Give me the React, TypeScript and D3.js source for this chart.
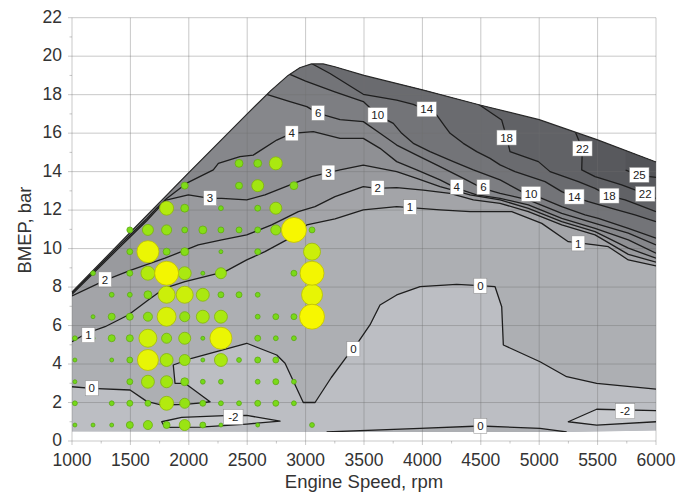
import React from 'react'
import * as d3 from 'd3'

type Pt = [number, number]

// full-load curve and lower edge of the mapped area (rpm, bar)
const envelopeTop: Pt[] = [
  [1000, 7.75], [1500, 10.85], [2000, 13.95], [2500, 17.0], [2700, 18.2],
  [2850, 19.0], [2950, 19.4], [3050, 19.6], [3150, 19.6], [3250, 19.45],
  [3500, 19.0], [4000, 18.25], [4500, 17.45], [5000, 16.7], [5500, 15.65], [6000, 14.5],
]
const envelopeBottom: Pt[] = [[1000, 0.5], [3200, 0.47], [5250, 0.47], [6000, 0.55]]

// contour lines (rpm, bar)
const contour1: Pt[] = [
  [1000, 5.16], [1126, 5.6], [1283, 5.94], [1482, 6.55], [1653, 7.33], [1796, 7.95],
  [1967, 8.28], [2139, 8.54], [2310, 8.8], [2496, 9.41], [2652, 9.84], [2838, 10.45],
  [3010, 11.23], [3252, 11.54], [3494, 12.01], [3780, 12.18], [4151, 12.01], [4408, 11.92],
  [4765, 11.92], [5022, 11.31], [5249, 10.36], [5478, 10.19], [5592, 10.1], [5763, 9.41], [6000, 9.1],
]
const contour2: Pt[] = [
  [1000, 7.54], [1291, 8.37], [1511, 8.89], [1796, 9.5], [2081, 10.19], [2282, 10.45],
  [2496, 10.71], [2710, 11.23], [2938, 11.92], [3081, 12.18], [3252, 12.7], [3494, 13.22],
  [3609, 13.13], [3780, 13.17], [4008, 13.04], [4236, 12.87], [4436, 12.53], [4665, 12.35],
  [4907, 11.92], [5193, 11.23], [5478, 10.71], [5763, 9.7], [6000, 9.3],
]
const contour3: Pt[] = [
  [1000, 7.62], [1396, 10.0], [1640, 11.45], [1725, 12.0], [1796, 12.5], [1996, 12.79],
  [2182, 12.61], [2282, 12.61], [2496, 12.53], [2652, 12.79], [2938, 13.48], [3052, 13.74],
  [3192, 13.95], [3295, 14.09], [3494, 14.34], [3780, 14.0], [3951, 13.65], [4151, 13.22],
  [4408, 12.79], [4665, 12.53], [4907, 12.09], [5193, 11.4], [5478, 10.88], [5763, 10.02], [6000, 9.5],
]
const contour4: Pt[] = [
  [1000, 7.7], [1396, 10.1], [1640, 11.55], [1725, 12.1], [1811, 12.6], [1982, 13.4],
  [2210, 14.09], [2253, 14.43], [2438, 14.78], [2552, 14.86], [2753, 15.64], [2881, 15.99],
  [3066, 16.08], [3295, 15.73], [3494, 15.73], [3637, 15.21], [3780, 14.52], [3951, 14.09],
  [4151, 13.57], [4294, 13.13], [4465, 12.79], [4665, 12.61], [4907, 12.27], [5193, 11.57],
  [5478, 11.05], [5763, 10.45], [6000, 9.76],
]
const contour6: Pt[] = [
  [2667, 18.02], [2866, 17.64], [3010, 17.38], [3109, 17.03], [3295, 16.7], [3494, 16.6],
  [3637, 15.99], [3780, 15.38], [3951, 14.86], [4151, 14.26], [4351, 13.65], [4516, 13.13],
  [4665, 12.87], [4907, 12.53], [5193, 11.83], [5478, 11.31], [5763, 10.8], [6000, 10.19],
]
const contour10: Pt[] = [
  [2866, 19.05], [3000, 18.7], [3250, 18.15], [3494, 17.64], [3617, 16.94], [3751, 16.51],
  [3823, 15.99], [3922, 15.47], [4065, 15.04], [4265, 14.52], [4436, 14.09], [4665, 13.57],
  [4850, 12.96], [4936, 12.82], [5022, 12.61], [5193, 12.18], [5392, 11.75], [5506, 11.57],
  [5763, 11.05], [6000, 10.54],
]
const contour14: Pt[] = [
  [3050, 19.62], [3209, 19.1], [3494, 18.02], [3780, 17.72], [3922, 17.5], [4037, 17.2],
  [4123, 16.94], [4194, 16.34], [4237, 15.99], [4350, 15.47], [4465, 15.04], [4579, 14.69],
  [4665, 14.35], [4793, 14.0], [5050, 13.48], [5193, 12.96], [5301, 12.67], [5421, 12.44],
  [5621, 12.09], [5820, 11.75], [6000, 11.4],
]
const contour18: Pt[] = [
  [4480, 17.5], [4679, 16.68], [4722, 15.76], [4750, 15.04], [4993, 14.52], [5093, 14.0],
  [5335, 13.48], [5478, 13.13], [5592, 12.75], [5735, 12.53], [5849, 12.27], [6000, 11.92],
]
const contour22: Pt[] = [
  [5307, 16.1], [5369, 15.18], [5364, 14.09], [5478, 13.74], [5706, 13.31], [5820, 13.05],
  [5906, 12.79], [6000, 12.61],
]
const contour25: Pt[] = [[5740, 14.08], [5863, 13.8], [6000, 13.7]]
const zeroMain: Pt[] = [
  [1000, 2.82], [1169, 2.74], [1497, 2.65], [1640, 2.06], [1768, 1.87], [1967, 1.9],
  [2110, 1.98], [2182, 2.04], [1967, 3.0], [1882, 3.0], [1867, 3.95], [2025, 4.3],
  [2496, 5.08], [2753, 4.47], [2824, 4.04], [2980, 2.0], [3081, 2.0], [3220, 3.3],
  [3352, 4.38], [3409, 4.77], [3551, 6.03], [3637, 7.07], [3780, 7.59], [3980, 8.02],
  [4294, 8.14], [4493, 8.07], [4622, 8.02], [4679, 6.98], [4693, 4.99], [5007, 4.12],
  [5235, 3.34], [5492, 3.0], [6000, 2.7],
]
const zeroLow: Pt[] = [[3180, 0.47], [3980, 0.66], [4496, 0.78], [5007, 0.66], [5235, 0.47]]
const minus2Left: Pt[] = [
  [1768, 1.0], [1939, 1.23], [2310, 1.32], [2496, 1.33], [2781, 1.03], [2496, 0.88],
  [2096, 0.72], [1796, 0.71],
]
const minus2Right: Pt[] = [[6000, 1.58], [5492, 1.65], [5249, 1.0], [5492, 0.83], [6000, 1.0]]

const upperContours = [contour1, contour2, contour3, contour4, contour6, contour10, contour14, contour18, contour22, contour25]

// contour labels: text, rpm, bar
const contourLabels: [string, number, number][] = [
  ['6', 3107, 17.05], ['10', 3617, 16.94], ['14', 4037, 17.24], ['18', 4721, 15.77],
  ['22', 5370, 15.2], ['25', 5857, 13.83], ['4', 2881, 15.99], ['3', 3195, 13.95],
  ['3', 2182, 12.62], ['2', 3617, 13.15], ['2', 1283, 8.4], ['1', 3894, 12.15],
  ['1', 5335, 10.27], ['1', 1140, 5.5], ['4', 4294, 13.2], ['6', 4522, 13.2],
  ['10', 4930, 12.84], ['14', 5301, 12.7], ['18', 5600, 12.75], ['22', 5908, 12.84],
  ['0', 1169, 2.74], ['0', 3409, 4.77], ['0', 4496, 8.07], ['0', 4496, 0.78],
  ['-2', 2381, 1.25], ['-2', 5735, 1.55],
]

// operating points: speed columns, load rows, share of time (%)
const speeds = [1025, 1180, 1340, 1495, 1650, 1810, 1965, 2120, 2275, 2430, 2590, 2745, 2900, 3055]
const loads = [0.83, 1.96, 3.08, 4.21, 5.34, 6.46, 7.6, 8.72, 9.84, 10.97, 12.1, 13.27, 14.43]
const timeShare = [
  [0.4, 0.4, 0.4, 1.25, 2.1, 1.25, 3.1, 0.9, 0.4, 0, 0.4, 0, 0, 0.6],
  [0.6, 0, 0.6, 0.9, 0.9, 5.0, 2.6, 0.9, 0.6, 0.6, 0.9, 0.9, 0.6, 0],
  [0.4, 0, 0, 0.9, 4.3, 3.7, 1.6, 0.6, 0.6, 0, 0.6, 0.9, 0.6, 0],
  [0.4, 0, 0.4, 0.9, 11.3, 4.3, 3.1, 0.4, 4.3, 0.6, 0.9, 0.9, 0, 0],
  [0.6, 0.4, 1.25, 1.25, 8.3, 2.6, 3.7, 0.4, 12.4, 0, 0.9, 0.6, 0.6, 0],
  [0, 0.4, 1.25, 1.25, 2.1, 9.2, 2.6, 4.3, 4.3, 0, 0.6, 0.9, 0.9, 16],
  [0, 0, 0.6, 0.6, 1.6, 7.4, 7.4, 4.3, 0.9, 0.9, 0.6, 0, 0, 11.3],
  [0, 0.6, 0, 0.9, 5.0, 14.7, 4.3, 0.4, 3.1, 0, 0, 0, 0.9, 14.7],
  [0, 0, 0, 0.9, 12.4, 1.25, 1.6, 0, 0.4, 0, 0.9, 0, 0, 7.4],
  [0, 0, 0, 0.9, 3.1, 2.6, 0.9, 1.6, 0.9, 0.9, 0.9, 2.6, 16, 0.9],
  [0, 0, 0, 0, 0, 5.0, 1.6, 0, 0.6, 0, 0.9, 3.7, 0, 0],
  [0, 0, 0, 0, 0, 0, 1.25, 0, 0, 1.25, 3.7, 0, 1.6, 0],
  [0, 0, 0, 0, 0, 0, 0, 0, 0, 1.6, 1.6, 4.3, 0, 0],
]

const speedTicks = [1000, 1500, 2000, 2500, 3000, 3500, 4000, 4500, 5000, 5500, 6000]
const bmepTicks = [0, 2, 4, 6, 8, 10, 12, 14, 16, 18, 20, 22]

const belowMinus2 = '#c7c9cd'
const belowZero = '#bcbec3'
const zeroToOne = '#adafb3'
const bandFills = ['#a3a4a8', '#999a9e', '#8f9094', '#86878b', '#7d7e82', '#737478', '#6a6b6f', '#616266', '#58595d', '#535458']

const W = 677
const H = 495
const font = 'Liberation Sans, Arial, sans-serif'

export default function App() {
  const x = d3.scaleLinear().domain([1000, 6000]).range([72, 656])
  const y = d3.scaleLinear().domain([0, 22]).range([441, 17.7])
  const line = d3.line<Pt>().x(d => x(d[0])).y(d => y(d[1]))
  const closed = (pts: Pt[]) => line(pts) + 'Z'
  const above = (pts: Pt[]): Pt[] => [...pts, [pts[pts.length - 1][0], 24], [pts[0][0], 24]]
  const below = (pts: Pt[]): Pt[] => [...pts, [pts[pts.length - 1][0], -1], [pts[0][0], -1]]

  const radius = d3.scaleSqrt().domain([0, 16]).range([0, 12.5])
  const fillScale = d3
    .scaleLinear<string>()
    .domain([0.4, 2.6, 6, 11, 16])
    .range(['#72d81a', '#94e214', '#c0ed0c', '#e6f505', '#f7f700'])
    .clamp(true)

  const envelope: Pt[] = [...envelopeTop, ...[...envelopeBottom].reverse()]

  const bubbles = timeShare
    .flatMap((row, i) => row.map((v, j) => ({ v, s: speeds[j], b: loads[i] })))
    .filter(d => d.v > 0)
    .sort((a, b) => a.v - b.v)

  const minorX = speedTicks.slice(1).map(t => t - 250)
  const minorY = bmepTicks.slice(1).map(t => t - 1)

  return (
    <svg width={W} height={H} style={{ position: 'absolute', left: 0, top: 0 }} fontFamily={font}>
      <defs>
        <clipPath id="map">
          <path d={closed(envelope)} />
        </clipPath>
      </defs>
      <rect width={W} height={H} fill="#fff" />

      {/* filled bands */}
      <g clipPath="url(#map)">
        <path d={closed(envelope)} fill={zeroToOne} />
        <path d={closed(below(zeroMain))} fill={belowZero} />
        <path d={closed(below(zeroLow))} fill={zeroToOne} />
        <path d={closed(minus2Left)} fill={belowMinus2} />
        <path d={closed(minus2Right)} fill={belowMinus2} />
        {upperContours.map((pts, i) => (
          <path key={i} d={closed(above(pts))} fill={bandFills[i]} />
        ))}
      </g>

      {/* grid */}
      <g stroke="#6f6f6f" strokeOpacity={0.38} strokeWidth={1}>
        {speedTicks.map(t => (
          <line key={t} x1={x(t)} x2={x(t)} y1={y(22)} y2={y(0) + 4} />
        ))}
        {bmepTicks.map(t => (
          <line key={t} x1={x(1000) - 4} x2={x(6000)} y1={y(t)} y2={y(t)} />
        ))}
        {minorX.map(t => (
          <line key={t} x1={x(t)} x2={x(t)} y1={y(0)} y2={y(0) + 2.5} />
        ))}
        {minorY.map(t => (
          <line key={t} x1={x(1000) - 2.5} x2={x(1000)} y1={y(t)} y2={y(t)} />
        ))}
      </g>

      {/* contour lines */}
      <g clipPath="url(#map)" fill="none" stroke="#1e1e1e" strokeWidth={1.3} strokeLinejoin="round">
        {[...upperContours, zeroMain, zeroLow].map((pts, i) => (
          <path key={i} d={line(pts) ?? ''} />
        ))}
        <path d={closed(minus2Left)} />
        <path d={line(minus2Right) ?? ''} />
      </g>
      <path d={line(envelopeTop) ?? ''} fill="none" stroke="#2a2a2a" strokeWidth={1.2} />

      {/* operating points */}
      <g strokeWidth={0.8}>
        {bubbles.map((d, i) => {
          const c = fillScale(d.v)
          return (
            <circle
              key={i}
              cx={x(d.s)}
              cy={y(d.b)}
              r={radius(d.v)}
              fill={c}
              stroke={d3.color(c)?.darker(0.7).formatHex()}
            />
          )
        })}
      </g>

      {/* contour labels */}
      {contourLabels.map(([t, s, b], i) => {
        const w = t.length * 6.5 + 6.5
        return (
          <g key={i} transform={`translate(${x(s)},${y(b)})`}>
            <rect x={-w / 2} y={-7.5} width={w} height={15} fill="#fff" stroke="#8a8a8a" strokeWidth={0.5} />
            <text textAnchor="middle" dy="0.36em" fontSize={11.5} fill="#222">
              {t}
            </text>
          </g>
        )
      })}

      {/* axes */}
      <g fontSize={17.5} fill="#333">
        {speedTicks.map(t => (
          <text key={t} x={x(t)} y={466} textAnchor="middle">
            {t}
          </text>
        ))}
        {bmepTicks.map(t => (
          <text key={t} x={62} y={y(t)} dy="0.3em" textAnchor="end">
            {t}
          </text>
        ))}
      </g>
      <text x={364} y={488} textAnchor="middle" fontSize={18.5} fill="#333">
        Engine Speed, rpm
      </text>
      <text transform="translate(31,230) rotate(-90)" textAnchor="middle" fontSize={18.5} fill="#333">
        BMEP, bar
      </text>
    </svg>
  )
}
